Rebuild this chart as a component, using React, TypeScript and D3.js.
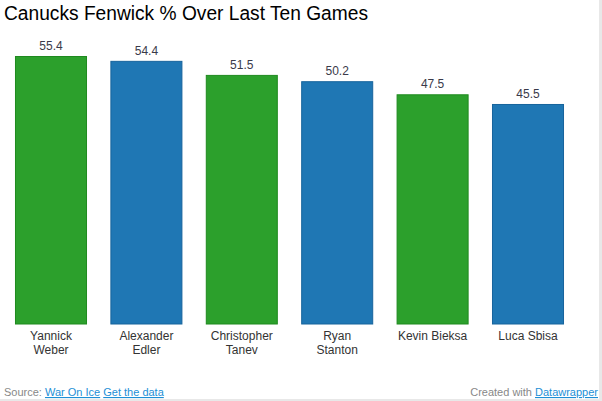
import React from "react";
import * as d3 from "d3";

const players = ["Yannick Weber", "Alexander Edler", "Christopher Tanev", "Ryan Stanton", "Kevin Bieksa", "Luca Sbisa"];
const labelLines = [["Yannick", "Weber"], ["Alexander", "Edler"], ["Christopher", "Tanev"], ["Ryan", "Stanton"], ["Kevin Bieksa"], ["Luca Sbisa"]];
const fenwick = [55.4, 54.4, 51.5, 50.2, 47.5, 45.5];
const colorGroup = ["green", "blue", "green", "blue", "green", "blue"];

const W = 602;
const H = 401;
const FONT = "'Liberation Sans', Arial, Helvetica, sans-serif";

export default function App() {
  const x = d3.scaleBand<string>().domain(players).range([3.3, 575.7]).paddingInner(0.245).paddingOuter(0.1225);
  const y = d3.scaleLinear().domain([0, 55.4]).range([324.5, 56]);
  const fills: Record<string, string> = { green: "#2ca02c", blue: "#1f77b4" };
  const strokes: Record<string, string> = { green: "#1f8a1f", blue: "#17649c" };

  return (
    <div style={{ position: "fixed", left: 0, top: 0, width: W, height: H, background: "#fff" }}>
      <svg width={W} height={H} style={{ display: "block", fontFamily: FONT }}>
        <rect x={599} y={0} width={3} height={H} fill="#e8e8e8" />
        <rect x={0} y={399} width={W} height={2} fill="#e8e8e8" />
        <text x={4} y={20} fontSize={20} fill="#000" textLength={364} lengthAdjust="spacingAndGlyphs">
          Canucks Fenwick % Over Last Ten Games
        </text>
        {players.map((p, i) => {
          const bx = x(p)!;
          const bw = x.bandwidth();
          const top = y(fenwick[i]);
          return (
            <g key={p}>
              <rect x={bx + 0.5} y={top + 0.5} width={bw - 1} height={y(0) - top - 1}
                fill={fills[colorGroup[i]]} stroke={strokes[colorGroup[i]]} strokeWidth={1} />
              <text x={bx + bw / 2} y={top - 6} textAnchor="middle" fontSize={12} fill="#3a3a4a">
                {fenwick[i].toFixed(1)}
              </text>
              {labelLines[i].map((ln, j) => (
                <text key={j} x={bx + bw / 2} y={339.5 + j * 14.5} textAnchor="middle" fontSize={12} fill="#333">
                  {ln}
                </text>
              ))}
            </g>
          );
        })}
        <text x={4} y={396} fontSize={11} fill="#888">
          Source: <tspan fill="#1d8fd6" textDecoration="underline">War On Ice</tspan>{" "}
          <tspan fill="#1d8fd6" textDecoration="underline">Get the data</tspan>
        </text>
        <text x={598} y={396} fontSize={11} fill="#888" textAnchor="end">
          Created with <tspan fill="#1d8fd6" textDecoration="underline">Datawrapper</tspan>
        </text>
      </svg>
    </div>
  );
}
